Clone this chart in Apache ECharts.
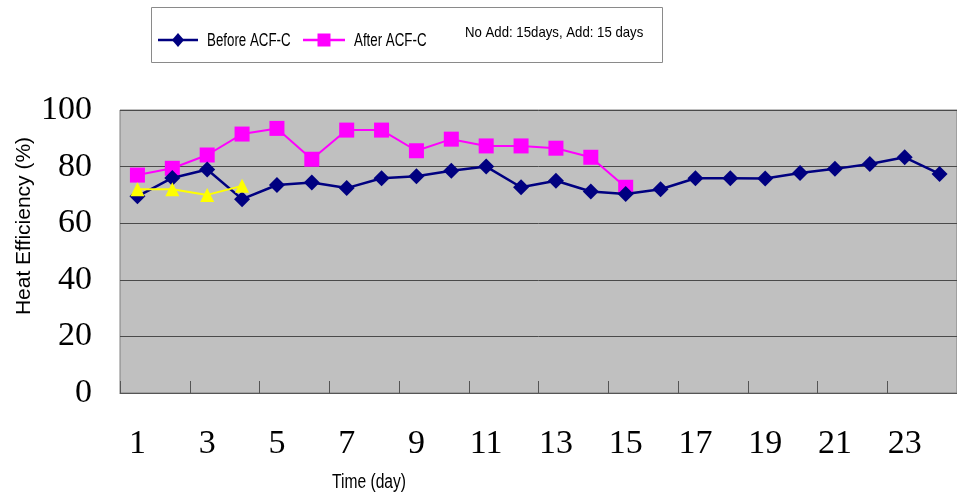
<!DOCTYPE html>
<html>
<head>
<meta charset="utf-8">
<script src="https://cdn.jsdelivr.net/npm/echarts@6/dist/echarts.min.js"></script>
<style>
  html, body { margin: 0; padding: 0; background: #fff; }
  #chart { width: 957px; height: 497px; }
</style>
</head>
<body>
<div id="chart"></div>
<script>
// Days along the x axis
const days = ['1','2','3','4','5','6','7','8','9','10','11','12','13','14','15','16','17','18','19','20','21','22','23','24'];

// Heat efficiency (%) per day
const beforeACFC = [69.5, 76, 79, 68.5, 73.5, 74.4, 72.4, 75.9, 76.6, 78.5, 80, 72.7, 75, 71.2, 70.3, 72, 75.9, 75.9, 75.8, 77.7, 79.2, 80.9, 83.3, 77.4];
const afterACFC  = [77, 79.4, 84.1, 91.5, 93.5, 82.6, 92.9, 92.9, 85.6, 89.7, 87.3, 87.3, 86.5, 83.3, 72.7];
const noAdd      = [72, 72, 70, 73.2];

const yTicks = { min: 0, max: 100, interval: 20 };

const seriesNames = ['Before ACF-C', 'After ACF-C', 'No Add'];
const legendNote = 'No Add: 15days, Add: 15 days';

const NAVY = '#000080', MAGENTA = '#ff00ff', YELLOW = '#ffff00';
const serifFont = '"Liberation Serif", "DejaVu Serif", serif';
const sansFont = '"Liberation Sans", Arial, sans-serif';

// Narrow sans text drawn as a horizontally squeezed graphic
function narrowText(x, y, text, size, scaleX) {
  return {
    type: 'text', x: x, y: y, scaleX: scaleX,
    style: { text: text, font: size + 'px ' + sansFont, fill: '#000', align: 'left', verticalAlign: 'middle' }
  };
}

// Legend swatch: a short line with the series marker in the middle
function swatch(x0, x1, y, color, marker) {
  const cx = (x0 + x1) / 2;
  const items = [{
    type: 'line', shape: { x1: x0, y1: y, x2: x1, y2: y },
    style: { stroke: color, lineWidth: 2.5 }
  }];
  if (marker === 'diamond') {
    items.push({ type: 'polygon', shape: { points: [[cx, y - 7], [cx + 6, y], [cx, y + 7], [cx - 6, y]] }, style: { fill: color } });
  } else {
    items.push({ type: 'rect', shape: { x: cx - 6.5, y: y - 6.5, width: 13, height: 13 }, style: { fill: color } });
  }
  return items;
}

const chart = echarts.init(document.getElementById('chart'), null, { renderer: 'canvas' });

chart.setOption({
  animation: false,
  backgroundColor: '#ffffff',
  grid: {
    left: 120, top: 110, width: 845, height: 283,
    show: true, backgroundColor: '#c0c0c0', borderColor: '#808080', borderWidth: 1
  },
  graphic: [
    {
      type: 'rect', left: 151, top: 7, z: -1,
      shape: { width: 511, height: 55 },
      style: { fill: '#fff', stroke: '#8a8a8a', lineWidth: 1 }
    },
    ...swatch(158, 198, 40, NAVY, 'diamond'),
    narrowText(207, 41, seriesNames[0], 18, 0.74),
    ...swatch(303, 345, 40, MAGENTA, 'rect'),
    narrowText(354, 41, seriesNames[1], 18, 0.74),
    narrowText(465, 33, legendNote, 15, 0.88),
    {
      type: 'text', x: 369, y: 482, scaleX: 0.78,
      style: { text: 'Time (day)', font: '20px ' + sansFont, fill: '#000', align: 'center', verticalAlign: 'middle' }
    },
    {
      type: 'text', x: 24, y: 226, rotation: Math.PI / 2,
      style: { text: 'Heat Efficiency (%)', font: '21px ' + sansFont, fill: '#000', align: 'center', verticalAlign: 'middle' }
    }
  ],
  xAxis: {
    type: 'category',
    data: days,
    boundaryGap: true,
    axisLine: { lineStyle: { color: '#555', width: 1 } },
    axisTick: { show: true, inside: true, length: 12, lineStyle: { color: '#555' } },
    axisLabel: {
      interval: 1, margin: 34,
      fontFamily: serifFont, fontSize: 34, color: '#000'
    },
    splitLine: { show: false }
  },
  yAxis: {
    type: 'value',
    min: yTicks.min, max: yTicks.max, interval: yTicks.interval,
    axisLine: { show: false },
    axisTick: { show: false },
    axisLabel: { margin: 28, padding: [12, 0, 0, 0], fontFamily: serifFont, fontSize: 34, color: '#000' },
    splitLine: { show: true, lineStyle: { color: '#4a4a4a', width: 1 } }
  },
  series: [
    {
      name: seriesNames[0], type: 'line', data: beforeACFC,
      symbol: 'diamond', symbolSize: 16,
      lineStyle: { color: NAVY, width: 2.5 },
      itemStyle: { color: NAVY },
      z: 3
    },
    {
      name: seriesNames[1], type: 'line', data: afterACFC,
      symbol: 'rect', symbolSize: 15,
      lineStyle: { color: MAGENTA, width: 2 },
      itemStyle: { color: MAGENTA },
      z: 2
    },
    {
      name: seriesNames[2], type: 'line', data: noAdd,
      symbol: 'triangle', symbolSize: 14,
      lineStyle: { color: YELLOW, width: 2 },
      itemStyle: { color: YELLOW },
      z: 4
    }
  ]
});
</script>
</body>
</html>
